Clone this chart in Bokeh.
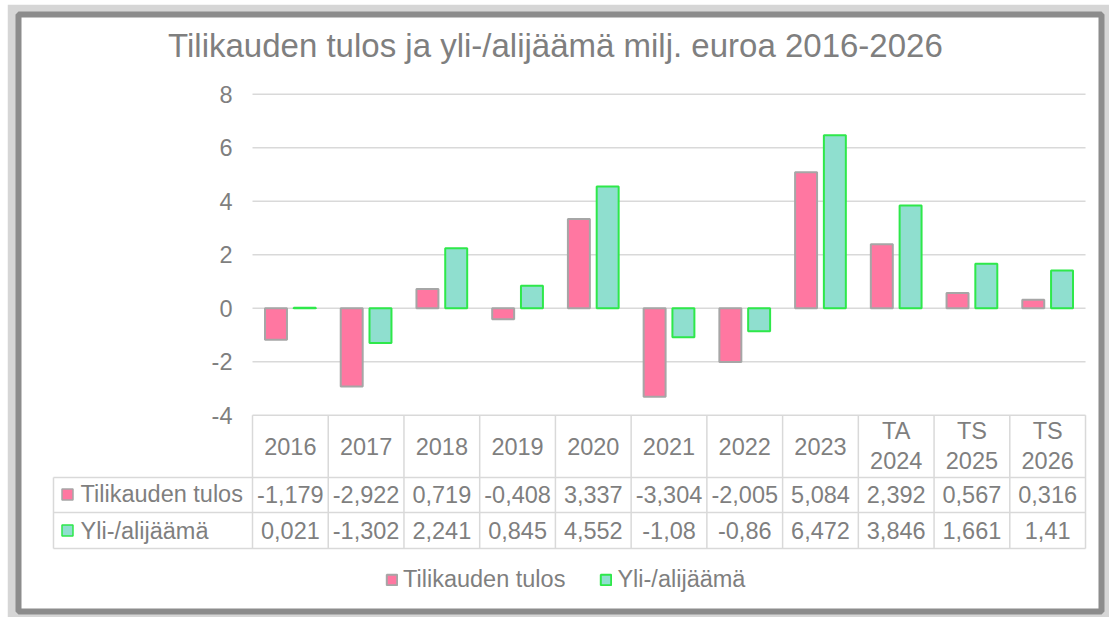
from bokeh.plotting import figure
from bokeh.models import Range1d, Legend, LegendItem, ColumnDataSource
from bokeh.transform import dodge
from bokeh.core.properties import value
from bokeh.embed import file_html
from bokeh.resources import INLINE

# ---- data ----
categories = ["2016", "2017", "2018", "2019", "2020", "2021", "2022", "2023",
              "TA\n2024", "TS\n2025", "TS\n2026"]
tulos = [-1.179, -2.922, 0.719, -0.408, 3.337, -3.304, -2.005, 5.084, 2.392, 0.567, 0.316]
ylijaama = [0.021, -1.302, 2.241, 0.845, 4.552, -1.08, -0.86, 6.472, 3.846, 1.661, 1.41]
series_names = ["Tilikauden tulos", "Yli-/alijäämä"]
y_ticks = [-4, -2, 0, 2, 4, 6, 8]
chart_title = "Tilikauden tulos ja yli-/alijäämä milj. euroa 2016-2026"

# ---- style ----
FONT_NAME = "Liberation Sans"
FONT = value(FONT_NAME)
TXT = "#7f7f7f"
GRID = "#d9d9d9"
PINK, PINK_LINE = "#ff77a1", "#a6a6a6"
MINT, MINT_LINE = "#8fdfcf", "#2ee84a"
FS = "23.5px"


def fmt(v):
    return f"{v:g}".replace(".", ",")


n = len(categories)
xs = [i + 0.5 for i in range(n)]

p = figure(width=1102, height=613, output_backend="svg", toolbar_location=None,
           x_range=Range1d(-3.090, 11.211), y_range=Range1d(-11.335, 10.983),
           x_axis_type=None, y_axis_type=None,
           min_border_left=11, min_border_top=10, min_border_right=8, min_border_bottom=6,
           border_fill_color="#d6d6d6", outline_line_color="#8c8c8c",
           outline_line_width=6, background_fill_color="white")
p.margin = (4, 0, 0, 7)

# layout helpers (table geometry in axis units)
row1_top, row2_top, table_bottom = -6.325, -7.634, -8.98
label_left = -2.628

# gridlines from tick list
p.segment(x0=[0] * len(y_ticks), x1=[n] * len(y_ticks), y0=y_ticks, y1=y_ticks,
          line_color=GRID, line_width=1.5)
# y tick labels
p.text(x=[-0.264] * len(y_ticks), y=y_ticks, text=[str(t) for t in y_ticks],
       text_font=FONT, text_font_size=FS, text_color=TXT,
       text_align="right", text_baseline="middle")

src = ColumnDataSource(dict(x=xs, tulos=tulos, yli=ylijaama))
r1 = p.vbar(x=dodge("x", -0.19), top="tulos", bottom=0, width=0.29, source=src,
            fill_color=PINK, line_color=PINK_LINE, line_width=2)
r2 = p.vbar(x=dodge("x", 0.19), top="yli", bottom=0, width=0.29, source=src,
            fill_color=MINT, line_color=MINT_LINE, line_width=2)

# data table lines
ymin_tick = min(y_ticks)
p.segment(x0=list(range(n + 1)), x1=list(range(n + 1)),
          y0=[ymin_tick] * (n + 1), y1=[table_bottom] * (n + 1),
          line_color=GRID, line_width=1.5)
p.segment(x0=[label_left] * 3, x1=[n] * 3, y0=[row1_top, row2_top, table_bottom],
          y1=[row1_top, row2_top, table_bottom], line_color=GRID, line_width=1.5)
p.segment(x0=[label_left], x1=[label_left], y0=[row1_top], y1=[table_bottom],
          line_color=GRID, line_width=1.5)

# table texts
hdr_y, r1_y, r2_y = -5.16, -6.96, -8.307
p.text(x=xs, y=[hdr_y] * n, text=categories, text_font=FONT, text_font_size=FS,
       text_color=TXT, text_align="center", text_baseline="middle", text_line_height=1.15)
p.text(x=xs, y=[r1_y] * n, text=[fmt(v) for v in tulos], text_font=FONT,
       text_font_size=FS, text_color=TXT, text_align="center", text_baseline="middle")
p.text(x=xs, y=[r2_y] * n, text=[fmt(v) for v in ylijaama], text_font=FONT,
       text_font_size=FS, text_color=TXT, text_align="center", text_baseline="middle")
p.text(x=[-2.271, -2.271], y=[r1_y, r2_y], text=series_names, text_font=FONT,
       text_font_size=FS, text_color=TXT, text_align="left", text_baseline="middle")
p.scatter(x=[-2.443], y=[r1_y], marker="square", size=11, fill_color=PINK,
          line_color=PINK_LINE, line_width=1.5)
p.scatter(x=[-2.443], y=[r2_y], marker="square", size=11, fill_color=MINT,
          line_color=MINT_LINE, line_width=1.5)

# title
p.text(x=[4.0], y=[9.824], text=[chart_title], text_font=FONT, text_font_size="33px",
       text_color=TXT, text_align="center", text_baseline="middle")

legend = Legend(items=[LegendItem(label=series_names[0], renderers=[r1]),
                       LegendItem(label=series_names[1], renderers=[r2])],
                orientation="horizontal", location=(367, 18),
                glyph_width=13, glyph_height=13, label_standoff=5, spacing=34,
                padding=0, margin=0, border_line_alpha=0, background_fill_alpha=0,
                label_text_font=FONT_NAME, label_text_font_size=FS, label_text_color=TXT)
p.add_layout(legend)

open("out.html", "w").write(file_html(p, INLINE))
